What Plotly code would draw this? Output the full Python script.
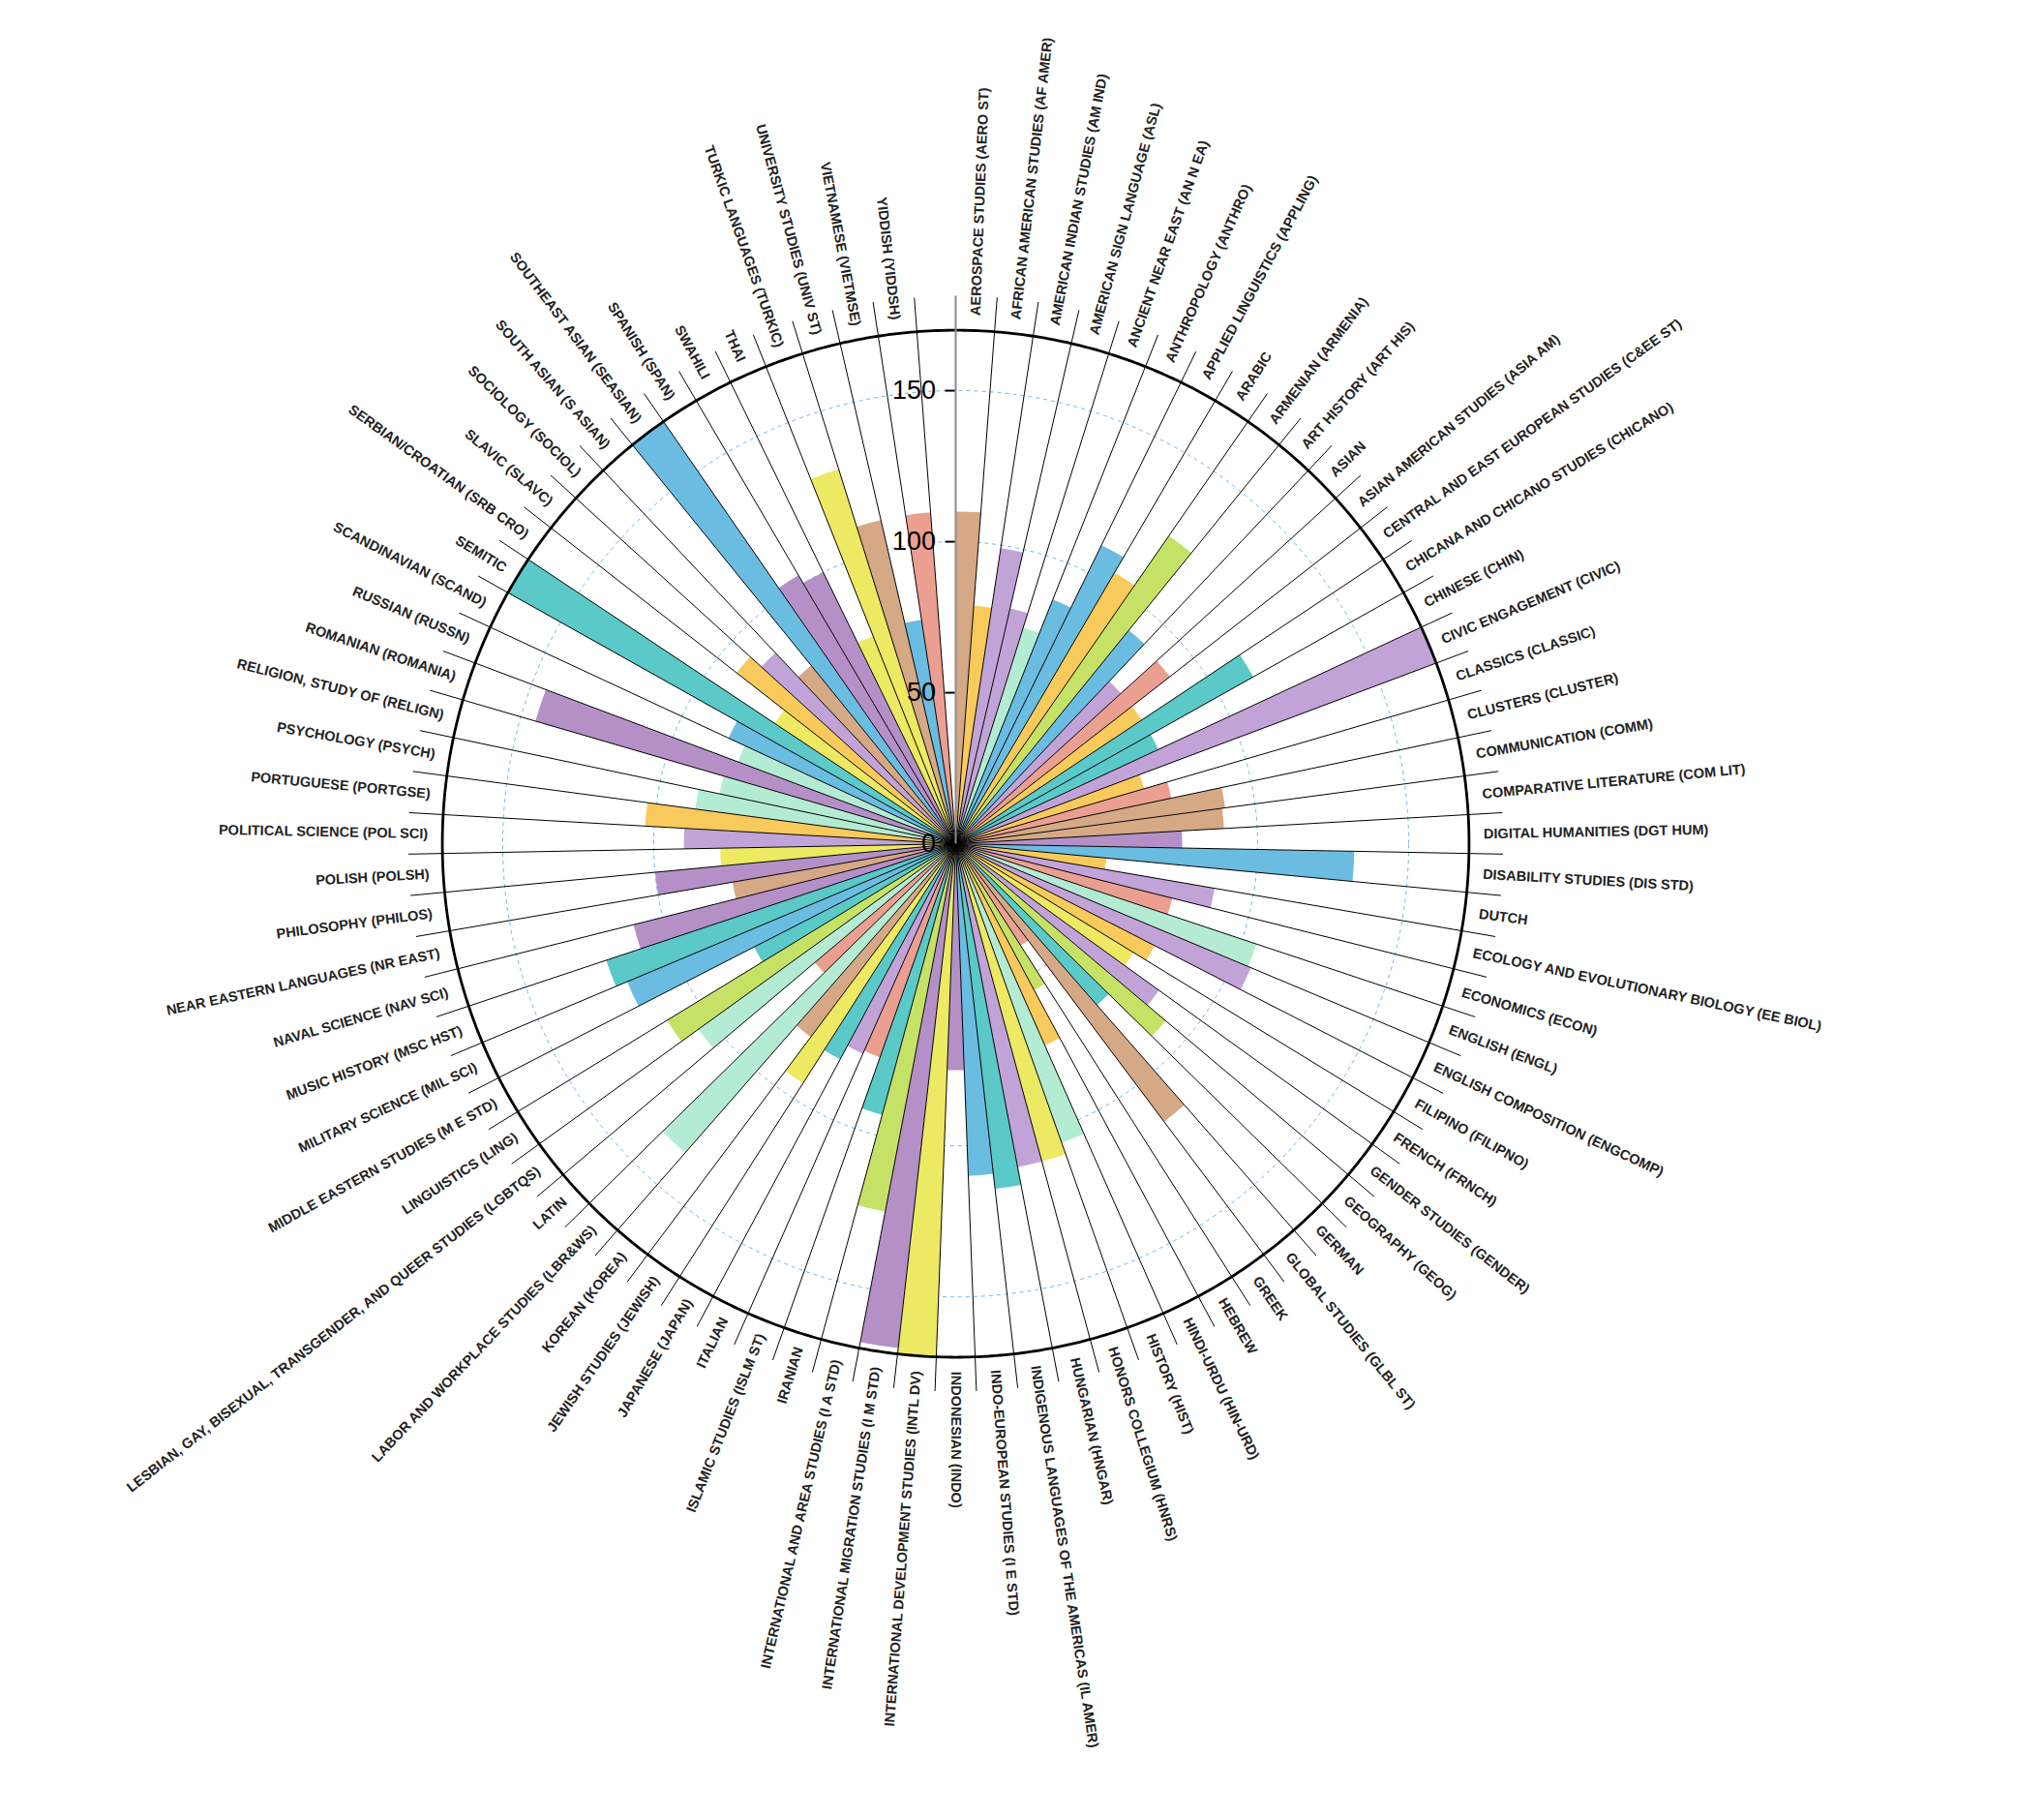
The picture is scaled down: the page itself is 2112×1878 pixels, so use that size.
import math
import numpy as np
import plotly.graph_objects as go

# ---------------- data ----------------
departments = [
    "AEROSPACE STUDIES (AERO ST)", "AFRICAN AMERICAN STUDIES (AF AMER)",
    "AMERICAN INDIAN STUDIES (AM IND)", "AMERICAN SIGN LANGUAGE (ASL)",
    "ANCIENT NEAR EAST (AN N EA)", "ANTHROPOLOGY (ANTHRO)",
    "APPLIED LINGUISTICS (APPLING)", "ARABIC", "ARMENIAN (ARMENIA)",
    "ART HISTORY (ART HIS)", "ASIAN", "ASIAN AMERICAN STUDIES (ASIA AM)",
    "CENTRAL AND EAST EUROPEAN STUDIES (C&EE ST)",
    "CHICANA AND CHICANO STUDIES (CHICANO)", "CHINESE (CHIN)",
    "CIVIC ENGAGEMENT (CIVIC)", "CLASSICS (CLASSIC)", "CLUSTERS (CLUSTER)",
    "COMMUNICATION (COMM)", "COMPARATIVE LITERATURE (COM LIT)",
    "DIGITAL HUMANITIES (DGT HUM)", "DISABILITY STUDIES (DIS STD)", "DUTCH",
    "ECOLOGY AND EVOLUTIONARY BIOLOGY (EE BIOL)", "ECONOMICS (ECON)",
    "ENGLISH (ENGL)", "ENGLISH COMPOSITION (ENGCOMP)", "FILIPINO (FILIPNO)",
    "FRENCH (FRNCH)", "GENDER STUDIES (GENDER)", "GEOGRAPHY (GEOG)", "GERMAN",
    "GLOBAL STUDIES (GLBL ST)", "GREEK", "HEBREW", "HINDI-URDU (HIN-URD)",
    "HISTORY (HIST)", "HONORS COLLEGIUM (HNRS)", "HUNGARIAN (HNGAR)",
    "INDIGENOUS LANGUAGES OF THE AMERICAS (IL AMER)",
    "INDO-EUROPEAN STUDIES (I E STD)", "INDONESIAN (INDO)",
    "INTERNATIONAL DEVELOPMENT STUDIES (INTL DV)",
    "INTERNATIONAL MIGRATION STUDIES (I M STD)",
    "INTERNATIONAL AND AREA STUDIES (I A STD)", "IRANIAN",
    "ISLAMIC STUDIES (ISLM ST)", "ITALIAN", "JAPANESE (JAPAN)",
    "JEWISH STUDIES (JEWISH)", "KOREAN (KOREA)",
    "LABOR AND WORKPLACE STUDIES (LBR&WS)", "LATIN",
    "LESBIAN, GAY, BISEXUAL, TRANSGENDER, AND QUEER STUDIES (LGBTQS)",
    "LINGUISTICS (LING)", "MIDDLE EASTERN STUDIES (M E STD)",
    "MILITARY SCIENCE (MIL SCI)", "MUSIC HISTORY (MSC HST)",
    "NAVAL SCIENCE (NAV SCI)", "NEAR EASTERN LANGUAGES (NR EAST)",
    "PHILOSOPHY (PHILOS)", "POLISH (POLSH)", "POLITICAL SCIENCE (POL SCI)",
    "PORTUGUESE (PORTGSE)", "PSYCHOLOGY (PSYCH)", "RELIGION, STUDY OF (RELIGN)",
    "ROMANIAN (ROMANIA)", "RUSSIAN (RUSSN)", "SCANDINAVIAN (SCAND)", "SEMITIC",
    "SERBIAN/CROATIAN (SRB CRO)", "SLAVIC (SLAVC)", "SOCIOLOGY (SOCIOL)",
    "SOUTH ASIAN (S ASIAN)", "SOUTHEAST ASIAN (SEASIAN)", "SPANISH (SPAN)",
    "SWAHILI", "THAI", "TURKIC LANGUAGES (TURKIC)",
    "UNIVERSITY STUDIES (UNIV ST)", "VIETNAMESE (VIETMSE)", "YIDDISH (YIDDSH)",
    "",
]

values = [
    110, 79, 99, 80, 75, 87, 110, 104, 124, 91,
    74, 90, 74, 113, 74, 170, 65, 73, 90, 89,
    75, 132, 50, 87, 74, 105, 106, 74, 69, 83,
    91, 71, 115, 40, 55, 73, 105, 109, 109, 115,
    110, 75, 170, 168, 124, 93, 75, 76, 81, 94,
    80, 136, 61, 105, 112, 75, 118, 122, 110, 75,
    100, 78, 90, 103, 87, 80, 145, 77, 83, 170,
    72, 92, 87, 76, 170, 103, 100, 74, 130, 110,
    75, 110, 0,
]

tick_values = [0, 50, 100, 150]
outer_value = 170

# ---------------- styles ----------------
PALETTE = {
    "BR": "#d5a886", "OR": "#f8ca5b", "PD": "#b590c7", "PL": "#c2a3d7",
    "LG": "#b4ecd3", "BL": "#6bbce1", "YG": "#c6e266", "SA": "#eb9f91",
    "TE": "#5ac9c8", "YE": "#eee962",
}
color_keys = [
    "BR", "OR", "PL", "PL", "LG", "BL", "BL", "OR", "YG", "BL",
    "PL", "SA", "OR", "TE", "TE", "PL", "OR", "SA", "BR", "BR",
    "PD", "BL", "OR", "PL", "SA", "LG", "PL", "OR", "YE", "PL",
    "YG", "TE", "BR", "SA", "YG", "OR", "LG", "YE", "PL", "TE",
    "BL", "PD", "YE", "PD", "YG", "TE", "SA", "PL", "TE", "YE",
    "BR", "LG", "SA", "LG", "YG", "TE", "BL", "TE", "PD", "BR",
    "PD", "YE", "PL", "OR", "LG", "LG", "PD", "LG", "BL", "TE",
    "YE", "OR", "PL", "BR", "BL", "PD", "PD", "YE", "YE", "BR",
    "BL", "SA", "SA",
]
bar_colors = [PALETTE[k] for k in color_keys]

FIG_W, FIG_H = 2096, 1862          # body margin of 8px around the figure
CX, CY = 979.5, 863.6              # centre of the polar area (figure px)
R_PX = 566.0                       # radius of the polar area in px
R_MAX = 181.4                      # radial range shown
LABEL_R = 174.4                    # where labels start
PX_PER_UNIT = R_PX / R_MAX

N = len(departments)
step = 360.0 / N
centers = [(i + 0.5) * step for i in range(N)]
bounds = [i * step for i in range(N)]

fig = go.Figure()
fig.add_trace(go.Barpolar(
    r=values, theta=centers, width=[step] * N,
    marker=dict(color=bar_colors, line=dict(width=0)),
    hoverinfo="skip", showlegend=False,
))

spoke_r, spoke_t = [], []
for b in bounds:
    spoke_r += [0, R_MAX, None]
    spoke_t += [b, b, None]
fig.add_trace(go.Scatterpolar(
    r=spoke_r, theta=spoke_t, mode="lines",
    line=dict(color="#000000", width=1.0), hoverinfo="skip", showlegend=False,
))

circ_t = np.linspace(0, 360, 721)
fig.add_trace(go.Scatterpolar(
    r=[outer_value] * len(circ_t), theta=circ_t, mode="lines",
    line=dict(color="black", width=2.8), hoverinfo="skip", showlegend=False,
))

# ---------------- labels ----------------
ARIAL_BOLD = {
    'A': 722, 'B': 722, 'C': 722, 'D': 722, 'E': 667, 'F': 611, 'G': 778,
    'H': 722, 'I': 278, 'J': 556, 'K': 722, 'L': 611, 'M': 833, 'N': 722,
    'O': 778, 'P': 667, 'Q': 778, 'R': 722, 'S': 667, 'T': 611, 'U': 722,
    'V': 667, 'W': 944, 'X': 667, 'Y': 667, 'Z': 611, ' ': 278, '(': 333,
    ')': 333, ',': 278, '-': 333, '/': 278, '&': 722, '.': 278,
}
LABEL_SIZE = 14.5


def text_width(s, size):
    return sum(ARIAL_BOLD.get(ch, 667) for ch in s) * size / 1000.0


annotations = []
for name, th in zip(departments, centers):
    if not name:
        continue
    w = text_width(name, LABEL_SIZE)
    r_px = LABEL_R * PX_PER_UNIT + w / 2.0 + 1
    rad = math.radians(th)
    px = CX + r_px * math.sin(rad)
    py = CY - r_px * math.cos(rad)
    angle = th - 90 if th <= 180.0001 else th - 270
    annotations.append(dict(
        x=px / FIG_W, y=1 - py / FIG_H, xref="paper", yref="paper",
        text="<b>" + name.replace("&", "&amp;") + "</b>",
        showarrow=False, textangle=angle, xanchor="center", yanchor="middle",
        font=dict(family="Liberation Sans, Arial, sans-serif", size=LABEL_SIZE,
                  color="#222222"),
    ))

fig.update_layout(
    width=FIG_W, height=FIG_H,
    margin=dict(l=0, r=0, t=0, b=0),
    paper_bgcolor="white", plot_bgcolor="white",
    showlegend=False,
    annotations=annotations,
    polar=dict(
        domain=dict(x=[(CX - R_PX) / FIG_W, (CX + R_PX) / FIG_W],
                    y=[1 - (CY + R_PX) / FIG_H, 1 - (CY - R_PX) / FIG_H]),
        bgcolor="white", bargap=0,
        angularaxis=dict(type="linear", rotation=90, direction="clockwise",
                         showgrid=False, showline=False, showticklabels=False,
                         ticks=""),
        radialaxis=dict(range=[0, R_MAX], angle=90, side="counterclockwise",
                        tickvals=tick_values, ticks="outside", ticklen=10,
                        tickwidth=1.5, tickcolor="black",
                        showline=True, linecolor="#8c8c8c", linewidth=2,
                        showgrid=True, gridcolor="#6db5f3", gridwidth=1.3,
                        griddash="4px,4px", tickangle=90,
                        tickfont=dict(family="Liberation Sans, Arial, sans-serif",
                                      size=27, color="black"),
                        layer="above traces"),
    ),
)

fig.write_html("out.html")
